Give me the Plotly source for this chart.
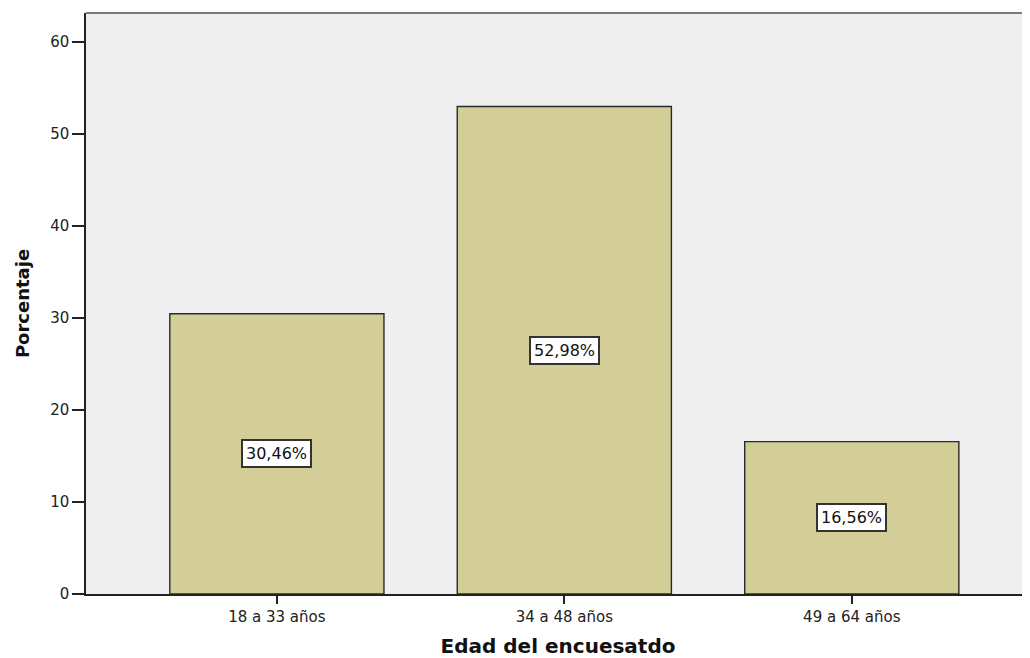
import plotly.graph_objects as go

categories = ["18 a 33 años", "34 a 48 años", "49 a 64 años"]
values = [30.46, 52.98, 16.56]
labels = ["30,46%", "52,98%", "16,56%"]
y_ticks = [0, 10, 20, 30, 40, 50, 60]

FONT = "DejaVu Sans, Arial"

fig = go.Figure()
fig.add_trace(go.Bar(
    x=categories, y=values, width=0.745,
    marker=dict(color="#D3CE98", line=dict(color="#2a2a2a", width=1.4)),
    hoverinfo="skip",
))

for c, v, t in zip(categories, values, labels):
    fig.add_annotation(x=c, y=v / 2, text=t, showarrow=False,
                       font=dict(family=FONT, size=16, color="#111"),
                       bgcolor="white", bordercolor="#333", borderwidth=2, borderpad=3)

# browser body margin (8px) compensated: figure is 8px smaller, margins shifted
fig.update_layout(
    width=1022, height=650,
    margin=dict(l=78, r=0, t=5, b=64),
    paper_bgcolor="white", plot_bgcolor="#EFEFEF",
    showlegend=False,
    font=dict(family=FONT, size=15, color="#222"),
    xaxis=dict(
        type="category", range=[-0.664, 2.62],
        showline=True, linecolor="#222", linewidth=1.5,
        ticks="outside", ticklen=8, tickcolor="#222", tickwidth=1.5,
        showgrid=False, zeroline=False,
        tickfont=dict(family=FONT, size=15, color="#222"),
        title=dict(text="<b>Edad del encuesatdo</b>",
                   font=dict(family=FONT, size=20, color="#111"), standoff=15),
    ),
    yaxis=dict(
        range=[0, 63.15], tickvals=y_ticks,
        showline=True, linecolor="#222", linewidth=1.5,
        ticks="outside", ticklen=12, tickcolor="#222", tickwidth=1.5,
        showgrid=False, zeroline=False,
        tickfont=dict(family=FONT, size=15, color="#222"),
        title=dict(text="<b>Porcentaje</b>",
                   font=dict(family=FONT, size=18, color="#111"), standoff=16),
    ),
)
fig.add_shape(type="line", xref="paper", yref="paper", x0=0, x1=1, y0=1, y1=1,
              line=dict(color="#7a7a7a", width=2))

fig.write_html("out.html")
